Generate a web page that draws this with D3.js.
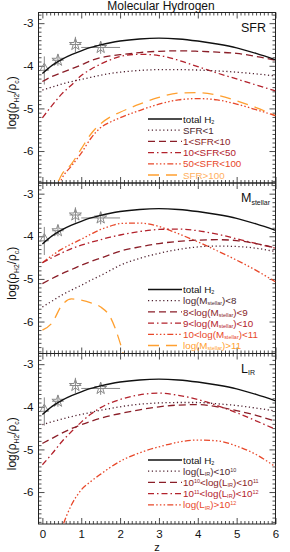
<!DOCTYPE html>
<html>
<head>
<meta charset="utf-8">
<script src="https://cdn.jsdelivr.net/npm/d3@7"></script>
<style>
body { margin: 0; background: #fff; }
text { font-family: "Liberation Sans", Arial, sans-serif; }
</style>
</head>
<body>
<div id="chart"></div>
<script>
// redshift grid shared by all model curves
var zGrid = [0, 0.25, 0.5, 0.75, 1, 1.25, 1.5, 1.75, 2, 2.5, 3, 3.5, 4, 4.5, 5, 5.5, 6];

var totalH2 = [-4.18, -3.99, -3.85, -3.74, -3.65, -3.57, -3.51, -3.46, -3.42, -3.37, -3.35, -3.37, -3.42, -3.49, -3.58, -3.71, -3.86];

// SFR bins
var sfrLt1 = [-4.57, -4.50, -4.43, -4.37, -4.32, -4.27, -4.22, -4.18, -4.15, -4.11, -4.09, -4.09, -4.10, -4.12, -4.15, -4.19, -4.24];
var sfr1to10 = [-4.37, -4.25, -4.16, -4.07, -3.98, -3.88, -3.81, -3.77, -3.74, -3.69, -3.66, -3.65, -3.66, -3.68, -3.71, -3.78, -3.87];
var sfr10to50 = [-5.22, -4.93, -4.66, -4.45, -4.23, -4.08, -3.96, -3.86, -3.78, -3.73, -3.76, -3.87, -4.02, -4.17, -4.31, -4.45, -4.59];
var sfr50to100 = [null, -7.3, -6.65, -6.35, -6.05, -5.7, -5.45, -5.32, -5.22, -5.05, -4.9, -4.8, -4.77, -4.8, -4.9, -5.03, -5.17];
var sfrGt100 = [null, -7.1, -6.55, -6.3, -5.95, -5.6, -5.36, -5.2, -5.09, -4.9, -4.74, -4.64, -4.63, -4.69, -4.82, -4.98, -5.17];

// stellar mass bins
var mLt8 = [-5.66, -5.52, -5.38, -5.26, -5.15, -5.03, -4.92, -4.80, -4.68, -4.52, -4.40, -4.31, -4.25, -4.23, -4.24, -4.28, -4.36];
var m8to9 = [-5.11, -4.99, -4.88, -4.78, -4.68, -4.59, -4.51, -4.43, -4.35, -4.25, -4.17, -4.12, -4.09, -4.08, -4.10, -4.17, -4.27];
var m9to10 = [-4.62, -4.50, -4.39, -4.29, -4.21, -4.14, -4.08, -4.02, -3.97, -3.89, -3.84, -3.83, -3.87, -3.95, -4.06, -4.17, -4.28];
var m10to11 = [-4.62, -4.45, -4.30, -4.18, -4.07, -3.95, -3.84, -3.76, -3.70, -3.69, -3.77, -3.94, -4.13, -4.34, -4.56, -4.80, -5.07];
var mGt11 = [-6.2, -6.03, -5.62, -5.47, -5.5, -5.56, -5.66, -5.9, -6.5, -8.5, null, null, null, null, null, null, null];

// infrared luminosity bins
var lLt10 = [-4.42, -4.35, -4.29, -4.23, -4.18, -4.13, -4.08, -4.04, -4.00, -3.94, -3.91, -3.90, -3.90, -3.93, -3.97, -4.03, -4.10];
var l10to11 = [-4.86, -4.74, -4.62, -4.51, -4.42, -4.34, -4.27, -4.21, -4.16, -4.07, -4.00, -3.96, -3.95, -4.00, -4.09, -4.20, -4.34];
var l11to12 = [-5.36, -5.10, -4.82, -4.58, -4.36, -4.17, -4.02, -3.91, -3.83, -3.72, -3.68, -3.73, -3.83, -3.97, -4.14, -4.33, -4.53];
var lGt12 = [null, -7.6, -6.85, -6.3, -5.95, -5.75, -5.58, -5.42, -5.28, -5.08, -4.94, -4.83, -4.78, -4.80, -4.92, -5.12, -5.41];

// observed points
var obsZ = [0.05, 0.4, 0.85, 1.5];
var obsRho = [-4.05, -3.87, -3.5, -3.57];
var obsZLo = [0.05, 0.25, 0.7, 1.0];
var obsZHi = [0.05, 0.55, 1.0, 2.0];
var obsRhoHi = [-3.78, -3.74, -3.32, -3.43];
var obsRhoLo = [-4.44, -4.0, -3.68, -3.72];
var obsShape = ["triangle", "star", "star", "star"];

var xTicks = [0, 1, 2, 3, 4, 5, 6];
var yTicks = [-3, -4, -5, -6];

var colBlack = "#111", colDot = "#4d1f2e", colDash = "#8a1e28", colDashDot = "#b3222c",
    colDash3 = "#e8482a", colLong = "#ffa030";
var dashes = { solid: null, dot: "1.2,2.6", dash: "7,4", dashdot: "6,3,1.5,3",
    dash3: "6,2.2,1.5,2.2,1.5,2.2,1.5,2.2", long: "11,7" };

var panels = [
  { name: [["SFR"]], series: [
      { v: totalH2, c: colBlack, d: "solid", w: 1.4, label: [["total H"], ["2", "sub"]] },
      { v: sfrLt1, c: colDot, d: "dot", label: [["SFR<1"]] },
      { v: sfr1to10, c: colDash, d: "dash", label: [["1<SFR<10"]] },
      { v: sfr10to50, c: colDashDot, d: "dashdot", label: [["10<SFR<50"]] },
      { v: sfr50to100, c: colDash3, d: "dash3", label: [["50<SFR<100"]] },
      { v: sfrGt100, c: colLong, d: "long", tc: "#ffb060", label: [["SFR>100"]] }
  ]},
  { name: [["M"], ["stellar", "sub"]], series: [
      { v: totalH2, c: colBlack, d: "solid", w: 1.4, label: [["total H"], ["2", "sub"]] },
      { v: mLt8, c: colDot, d: "dot", label: [["log(M"], ["stellar", "sub"], [")<8"]] },
      { v: m8to9, c: colDash, d: "dash", label: [["8<log(M"], ["stellar", "sub"], [")<9"]] },
      { v: m9to10, c: colDashDot, d: "dashdot", label: [["9<log(M"], ["stellar", "sub"], [")<10"]] },
      { v: m10to11, c: colDash3, d: "dash3", label: [["10<log(M"], ["stellar", "sub"], [")<11"]] },
      { v: mGt11, c: colLong, d: "long", label: [["log(M"], ["stellar", "sub"], [")>11"]] }
  ]},
  { name: [["L"], ["IR", "sub"]], series: [
      { v: totalH2, c: colBlack, d: "solid", w: 1.4, label: [["total H"], ["2", "sub"]] },
      { v: lLt10, c: colDot, d: "dot", label: [["log(L"], ["IR", "sub"], [")<10"], ["10", "sup"]] },
      { v: l10to11, c: colDash, d: "dash", label: [["10"], ["10", "sup"], ["<log(L"], ["IR", "sub"], [")<10"], ["11", "sup"]] },
      { v: l11to12, c: colDashDot, d: "dashdot", label: [["10"], ["11", "sup"], ["<log(L"], ["IR", "sub"], [")<10"], ["12", "sup"]] },
      { v: lGt12, c: colDash3, d: "dash3", label: [["log(L"], ["IR", "sub"], [")>10"], ["12", "sup"]] }
  ]}
];

var W = 290, H = 552;
var left = 38.5, right = 275.5;
var panelTop = [12.5, 183, 353.5], panelH = 170.5;

var svg = d3.select("#chart").append("svg").attr("width", W).attr("height", H);

var x = d3.scaleLinear().domain([-0.1, 6]).range([left, right]);
var xMinor = d3.range(0, 60.5, 1).map(function(d) { return d / 10; }).filter(function(d) { return d % 1 !== 0; });
var yMinor = d3.range(-67, -27, 1).map(function(d) { return d / 10; }).filter(function(d) { return d % 1 !== 0; });

// writes text made of plain / sub / sup pieces
function rich(sel, parts, size, sub) {
  var shift = 0;
  parts.forEach(function(p) {
    var target = p[1] === "sub" ? size * (sub || 0.22) : p[1] === "sup" ? -size * 0.3 : 0;
    sel.append("tspan")
      .attr("dy", target - shift)
      .attr("font-size", p[1] ? size * 0.56 : size)
      .text(p[0]);
    shift = target;
  });
}

function noDomain(g) { g.select(".domain").remove(); }

panels.forEach(function(p, i) {
  var top = panelTop[i], bottom = top + panelH;
  var y = d3.scaleLinear().domain([-6.75, -2.75]).range([bottom, top]);
  var g = svg.append("g");

  g.append("clipPath").attr("id", "clip" + i)
    .append("rect").attr("x", left).attr("y", top).attr("width", right - left).attr("height", panelH);

  // ticks on all four sides, pointing in
  g.append("g").attr("transform", "translate(0," + bottom + ")")
    .call(d3.axisBottom(x).tickValues(xMinor).tickSize(-3).tickFormat("")).call(noDomain);
  g.append("g").attr("transform", "translate(0," + bottom + ")")
    .call(d3.axisBottom(x).tickValues(xTicks).tickSize(-6).tickPadding(6)
      .tickFormat(i === 2 ? String : "")).call(noDomain);
  g.append("g").attr("transform", "translate(0," + top + ")")
    .call(d3.axisTop(x).tickValues(xMinor).tickSize(-3).tickFormat("")).call(noDomain);
  g.append("g").attr("transform", "translate(0," + top + ")")
    .call(d3.axisTop(x).tickValues(xTicks).tickSize(-6).tickFormat("")).call(noDomain);

  g.append("g").attr("transform", "translate(" + left + ",0)")
    .call(d3.axisLeft(y).tickValues(yMinor).tickSize(-3).tickFormat("")).call(noDomain);
  g.append("g").attr("transform", "translate(" + left + ",0)")
    .call(d3.axisLeft(y).tickValues(yTicks).tickSize(-6).tickPadding(5).tickFormat(String)).call(noDomain);
  g.append("g").attr("transform", "translate(" + right + ",0)")
    .call(d3.axisRight(y).tickValues(yMinor).tickSize(-3).tickFormat("")).call(noDomain);
  g.append("g").attr("transform", "translate(" + right + ",0)")
    .call(d3.axisRight(y).tickValues(yTicks).tickSize(-6).tickFormat("")).call(noDomain);

  g.selectAll(".tick line").attr("stroke", "#222").attr("stroke-width", 0.8);
  g.selectAll(".tick text").attr("font-size", 11.5).attr("fill", "#111")
    .attr("font-family", "Liberation Sans, Arial, sans-serif");

  g.append("rect").attr("x", left).attr("y", top).attr("width", right - left).attr("height", panelH)
    .attr("fill", "none").attr("stroke", "#222").attr("stroke-width", 1);

  // y label
  var ylab = g.append("text")
    .attr("transform", "translate(16," + (top + panelH / 2 + 5) + ") rotate(-90)")
    .attr("text-anchor", "middle").attr("fill", "#111");
  rich(ylab, [["log(\u03C1"], ["H2", "sub"], ["/\u03C1"], ["c", "sub"], [")"]], 12);

  // panel name
  var nm = g.append("text").attr("x", 241).attr("y", top + 19).attr("fill", "#111");
  rich(nm, p.name, 12.5);

  // observations
  var obs = obsZ.map(function(z, k) {
    return { z: z, v: obsRho[k], zlo: obsZLo[k], zhi: obsZHi[k], lo: obsRhoLo[k], hi: obsRhoHi[k], s: obsShape[k] };
  });
  var og = g.append("g").attr("stroke", "#888").attr("fill", "none").attr("stroke-width", 1);
  og.selectAll(".ey").data(obs).enter().append("line")
    .attr("x1", function(d) { return x(d.z); }).attr("x2", function(d) { return x(d.z); })
    .attr("y1", function(d) { return y(d.lo); }).attr("y2", function(d) { return y(d.hi); });
  og.selectAll(".ex").data(obs.filter(function(d) { return d.zhi > d.zlo; })).enter().append("line")
    .attr("x1", function(d) { return x(d.zlo); }).attr("x2", function(d) { return x(d.zhi); })
    .attr("y1", function(d) { return y(d.v); }).attr("y2", function(d) { return y(d.v); });
  og.selectAll(".sym").data(obs).enter().append("path")
    .attr("transform", function(d) { return "translate(" + x(d.z) + "," + y(d.v) + ")"; })
    .attr("d", function(d) {
      return d.s === "star" ? d3.symbol(d3.symbolStar, 45)() : d3.symbol(d3.symbolTriangle, 30)();
    });

  // model curves
  var line = d3.line()
    .defined(function(d) { return d[1] !== null; })
    .x(function(d) { return x(d[0]); })
    .y(function(d) { return y(d[1]); })
    .curve(d3.curveMonotoneX);

  var cg = g.append("g").attr("clip-path", "url(#clip" + i + ")");
  p.series.slice().reverse().forEach(function(s) {
    cg.append("path")
      .datum(zGrid.map(function(z, k) { return [z, s.v[k]]; }))
      .attr("d", line)
      .attr("fill", "none")
      .attr("stroke", s.c)
      .attr("stroke-width", s.w || 1.3)
      .attr("stroke-dasharray", dashes[s.d]);
  });

  // legend
  var lg = g.append("g");
  p.series.forEach(function(s, k) {
    var ly = top + 106.5 + k * 11.2;
    lg.append("line").attr("x1", 148).attr("x2", 182).attr("y1", ly).attr("y2", ly)
      .attr("stroke", s.c).attr("stroke-width", s.w || 1.3).attr("stroke-dasharray", dashes[s.d]);
    var t = lg.append("text").attr("x", 183).attr("y", ly + 3.6).attr("fill", s.tc || s.c);
    rich(t, s.label, 9.8, 0.12);
  });
});

svg.append("text").attr("x", 161).attr("y", 10).attr("text-anchor", "middle")
  .attr("font-size", 12).attr("fill", "#111").text("Molecular Hydrogen");

svg.append("text").attr("x", 157).attr("y", 551).attr("text-anchor", "middle")
  .attr("font-size", 11).attr("fill", "#111").text("z");
</script>
</body>
</html>
